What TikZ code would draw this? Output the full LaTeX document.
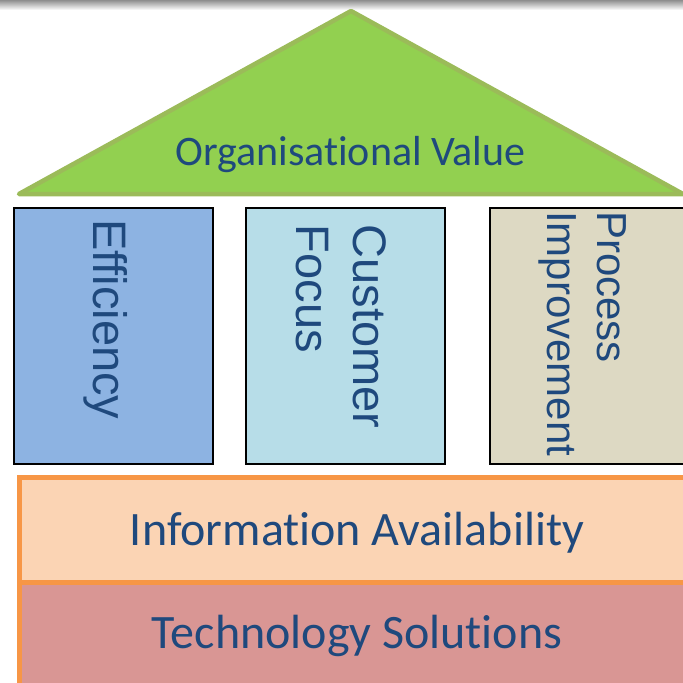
\documentclass[tikz,border=0pt]{standalone}
\usepackage{fontspec}
\setmainfont{Carlito}[Ligatures=NoCommon]
\newfontfamily\pillarfont{Liberation Sans}[Ligatures=NoCommon]

\definecolor{topgray}{HTML}{8E8E8E}
\definecolor{roofgreen}{HTML}{92D050}
\definecolor{roofedge}{HTML}{9BBB59}
\definecolor{effblue}{HTML}{8DB3E2}
\definecolor{custblue}{HTML}{B7DDE8}
\definecolor{procbeige}{HTML}{DDD9C3}
\definecolor{infopeach}{HTML}{FBD4B4}
\definecolor{techrose}{HTML}{D99694}
\definecolor{edgeorange}{HTML}{F79646}
\definecolor{textblue}{HTML}{1F497D}

\begin{document}
\begin{tikzpicture}[x=1pt, y=-1pt,
  roof/.style={fill=roofgreen, draw=roofedge, line width=4.5pt, line join=round},
  pillar/.style={draw=black, line width=2pt, anchor=north west, inner sep=0pt,
                 minimum width=199pt, minimum height=256pt},
  layer/.style={draw=edgeorange, line width=4.5pt, anchor=north west, inner sep=0pt,
                minimum width=680pt},
  flat/.style={text=textblue, inner sep=0pt, anchor=base, font=\fontsize{48}{58}\selectfont},
  upright/.style={text=textblue, inner sep=0pt, rotate=-90, anchor=base west, align=left},
]
\useasboundingbox (0,0) rectangle (683,683);
\clip (0,0) rectangle (683,683);
\fill[white] (0,0) rectangle (683,683);

% shadow band along the top edge
\shade[top color=topgray, bottom color=white] (0,0) rectangle (683,10);

% roof
\coordinate (roofL) at (19,194);
\coordinate (roofT) at (351,11);
\coordinate (roofR) at (683,194);
\draw[roof] (roofL) -- (roofT) -- (roofR) -- cycle;
\node[flat, font=\fontsize{42}{50}\selectfont] (ov) at (350.5,165) {Organisational Value};

% pillars
\node[pillar, fill=effblue]   (eff)  at (13,207)  {};
\node[pillar, fill=custblue]  (cust) at (245,207) {};
\node[pillar, fill=procbeige] (proc) at (489,207) {};

% pillar captions (the base anchor sits on the last line)
\node[upright, font=\pillarfont\fontsize{47}{57}\selectfont] (efft) at (93,219) {Efficiency};
\node[upright, font=\pillarfont\fontsize{47}{57}\selectfont] (custt) at (296,224.5) {Customer\\Focus};
\node[upright, font=\pillarfont\fontsize{42}{50}\selectfont] (proct) at (547,211) {Process\\Improvement};

% foundation layers
\node[layer, fill=techrose, minimum height=110pt]  (tech) at (17,580) {};
\node[layer, fill=infopeach, minimum height=105pt] (info) at (17,475) {};

\node[flat] (infot) at (357,545) {Information Availability};
\node[flat] (techt) at (357,648) {Technology Solutions};
\end{tikzpicture}
\end{document}
